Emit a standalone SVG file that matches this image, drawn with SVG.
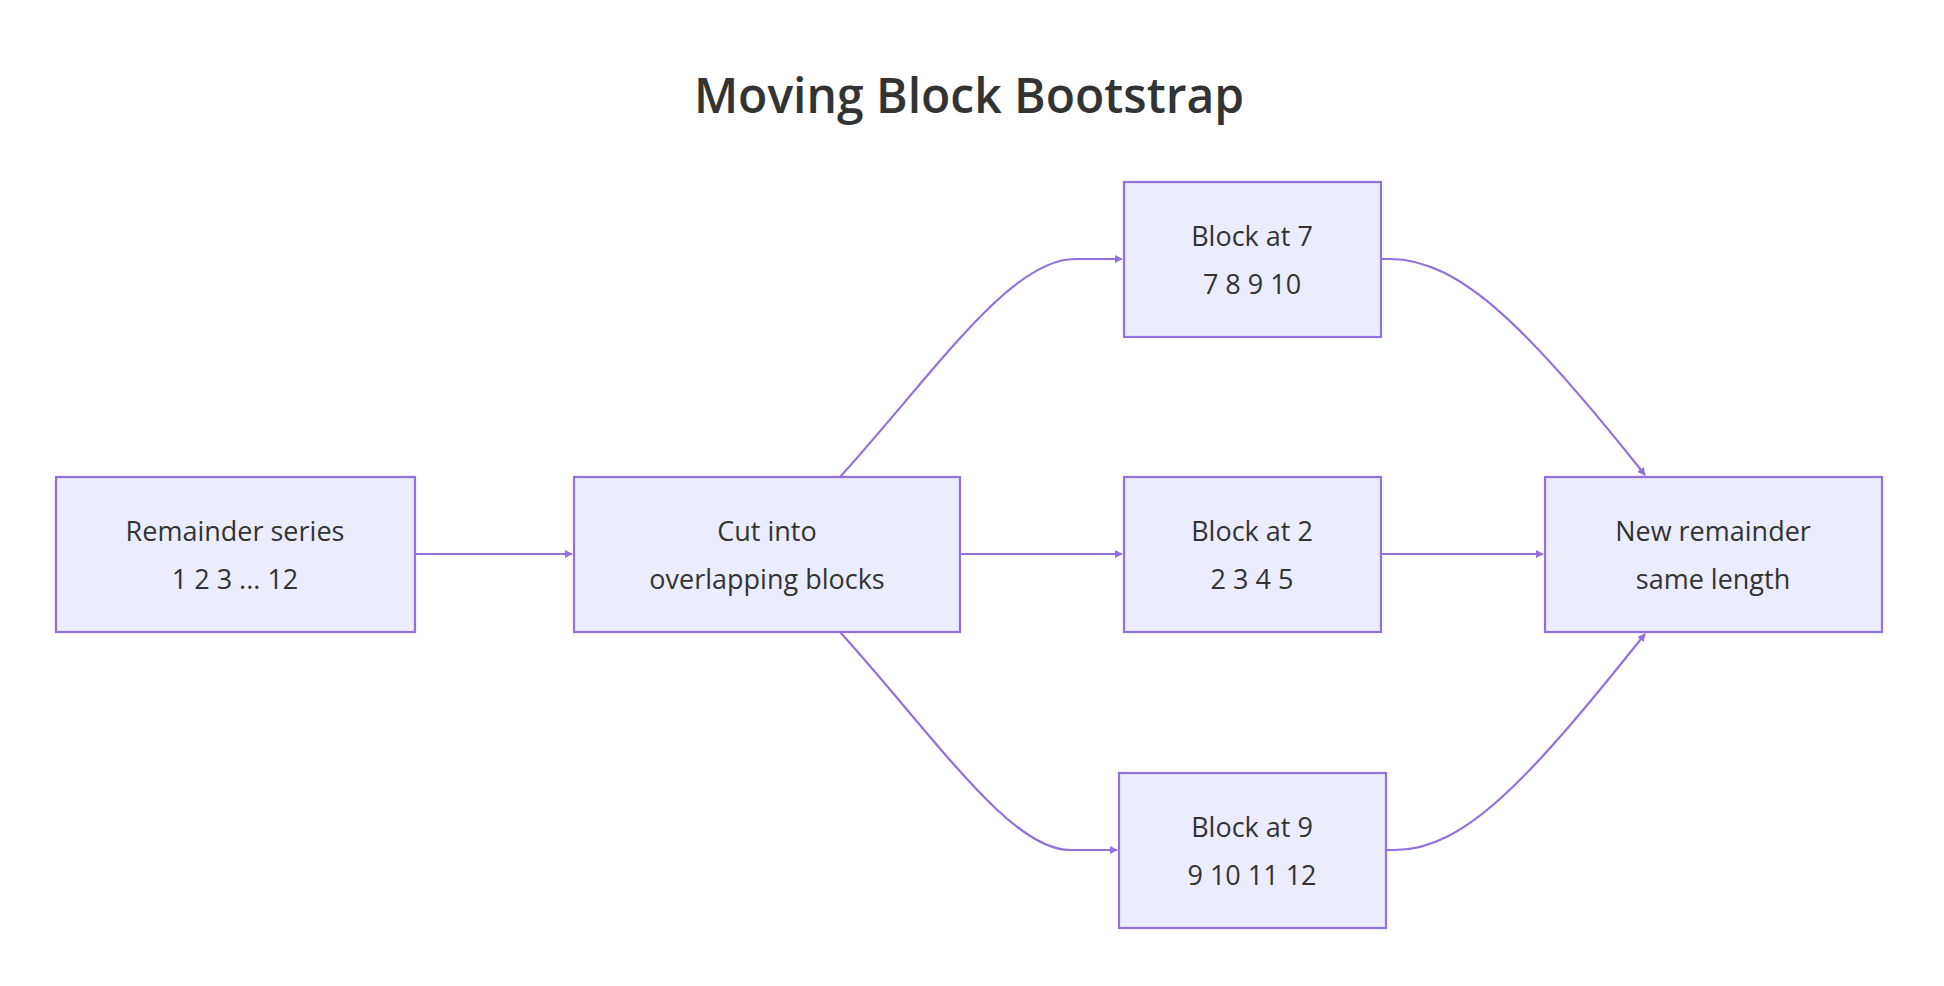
<svg xmlns="http://www.w3.org/2000/svg" width="1944" height="986" viewBox="0 0 1944 986">
<defs>
<style>
.n{fill:#ECECFF;stroke:#9370DB;stroke-width:2.2}
.t{font-family:"Open Sans","Liberation Sans",sans-serif;font-size:27px;fill:#333;text-anchor:middle}
.e{fill:none;stroke:#9370DB;stroke-width:2.2}
</style>
<marker id="a" viewBox="0 0 10 10" refX="9" refY="5" markerWidth="8" markerHeight="8" markerUnits="userSpaceOnUse" orient="auto"><path d="M0,0L10,5L0,10z" fill="#9370DB" transform="scale(1)"/></marker>
</defs>
<rect width="1944" height="986" fill="#fff"/>
<text x="969" y="113" font-family="Open Sans,Liberation Sans,sans-serif" font-size="48" font-weight="600" fill="#333" text-anchor="middle">Moving Block Bootstrap</text>
<g id="edges">
<path class="e" marker-end="url(#a)" d="M415,554L572,554"/>
<path class="e" marker-end="url(#a)" d="M960,554L1122,554"/>
<path class="e" marker-end="url(#a)" d="M1381,554L1543,554"/>
<path class="e" marker-end="url(#a)" d="M840,477C935,372 1010,259 1075,259L1122,259"/>
<path class="e" marker-end="url(#a)" d="M840,632C935,737 1010,850 1070,850L1117,850"/>
<path class="e" marker-end="url(#a)" d="M1381,259L1390,259C1460,259 1530,330 1645,475"/>
<path class="e" marker-end="url(#a)" d="M1386,850L1395,850C1465,850 1530,778 1645,634"/>
</g>
<g id="n1"><rect class="n" x="56" y="477" width="359" height="155"/><text class="t" x="235" y="541">Remainder series</text><text class="t" x="235" y="589">1 2 3 ... 12</text></g>
<g id="n2"><rect class="n" x="574" y="477" width="386" height="155"/><text class="t" x="767" y="541">Cut into</text><text class="t" x="767" y="589">overlapping blocks</text></g>
<g id="n3"><rect class="n" x="1124" y="182" width="257" height="155"/><text class="t" x="1252" y="246">Block at 7</text><text class="t" x="1252" y="294">7 8 9 10</text></g>
<g id="n4"><rect class="n" x="1124" y="477" width="257" height="155"/><text class="t" x="1252" y="541">Block at 2</text><text class="t" x="1252" y="589">2 3 4 5</text></g>
<g id="n5"><rect class="n" x="1119" y="773" width="267" height="155"/><text class="t" x="1252" y="837">Block at 9</text><text class="t" x="1252" y="885">9 10 11 12</text></g>
<g id="n6"><rect class="n" x="1545" y="477" width="337" height="155"/><text class="t" x="1713" y="541">New remainder</text><text class="t" x="1713" y="589">same length</text></g>
</svg>
